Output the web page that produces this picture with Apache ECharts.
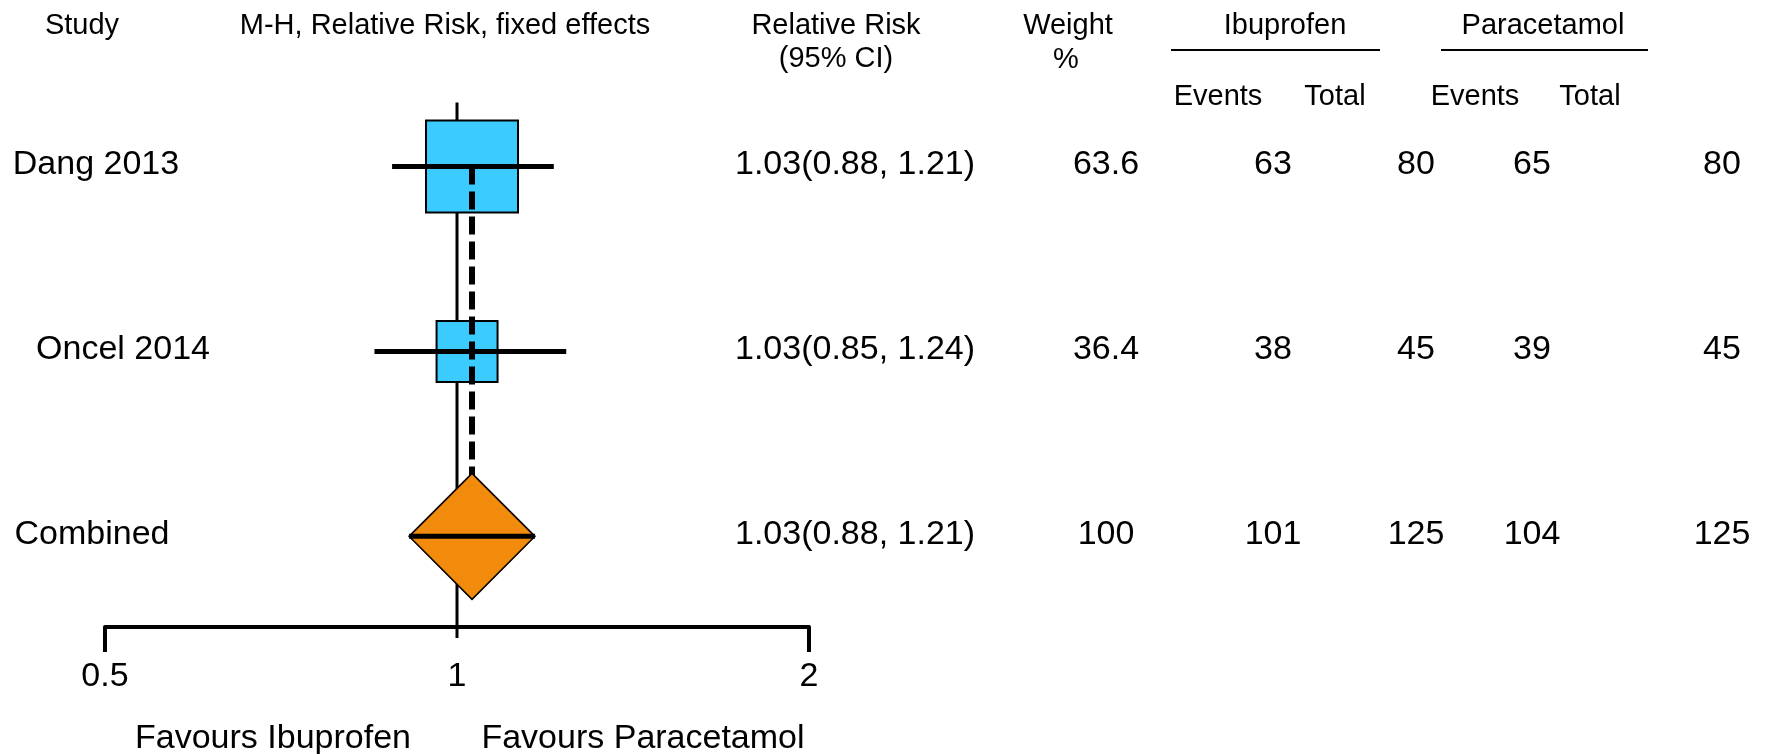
<!DOCTYPE html>
<html>
<head>
<meta charset="utf-8">
<script src="https://cdn.jsdelivr.net/npm/echarts@6/dist/echarts.min.js"></script>
<style>
html,body{margin:0;padding:0;background:#fff;}
#chart{width:1765px;height:754px;}
</style>
</head>
<body>
<div id="chart"></div>
<script>
// ---------- data ----------
const studies = ['Dang 2013', 'Oncel 2014', 'Combined'];
const rr = [1.03, 1.02, 1.03];          // marker positions
const ciLow = [0.88, 0.85, 0.88];
const ciHigh = [1.21, 1.24, 1.21];
const rrText = ['1.03(0.88, 1.21)', '1.03(0.85, 1.24)', '1.03(0.88, 1.21)'];
const weights = [63.6, 36.4, 100];
const ibuEvents = [63, 38, 101];
const ibuTotal = [80, 45, 125];
const paraEvents = [65, 39, 104];
const paraTotal = [80, 45, 125];
const xTicks = [0.5, 1, 2];
const favourLabels = ['Favours Ibuprofen', 'Favours Paracetamol'];

// ---------- layout (pixels) ----------
const FONT = "'Liberation Sans', Arial, sans-serif";
const labelCenterX = [96, 123, 92];
const colX = {rr: 855, w: 1106, ie: 1273, it: 1416, pe: 1532, pt: 1722};
const BOX_BLUE = '#3CCBFF';
const DIAMOND = '#F28A0C';
const BIG = 34, HEAD = 29;

const chart = echarts.init(document.getElementById('chart'), null, {renderer: 'canvas'});

function txt(x, y, text, size) {
  return {type: 'text', x: x, y: y, style: {text: text, x: 0, y: 0, fontSize: size, fontFamily: FONT, fill: '#000', align: 'center', verticalAlign: 'middle'}};
}

const pooledIdx = studies.length - 1;
const studyIdx = studies.map((s, i) => i).filter(i => i !== pooledIdx);

const option = {
  backgroundColor: '#fff',
  animation: false,
  grid: {left: 105, width: 704, top: 74, height: 553},
  xAxis: {
    type: 'log', logBase: 2, min: 0.5, max: 2,
    axisLine: {show: true, onZero: false, lineStyle: {color: '#000', width: 4}},
    axisTick: {show: false},
    splitLine: {show: false},
    axisLabel: {fontSize: BIG, color: '#000', fontFamily: FONT, margin: 33,
      formatter: v => String(v)}
  },
  yAxis: {type: 'value', min: -0.5, max: 2.49, inverse: true, show: false},
  graphic: [
    txt(82, 26, 'Study', HEAD),
    txt(445, 26, 'M-H, Relative Risk, fixed effects', HEAD),
    txt(836, 26, 'Relative Risk', HEAD),
    txt(836, 59, '(95% CI)', HEAD),
    txt(1068, 26, 'Weight', HEAD),
    txt(1066, 60, '%', HEAD),
    txt(1285, 26, 'Ibuprofen', HEAD),
    txt(1543, 26, 'Paracetamol', HEAD),
    txt(1218, 97, 'Events', HEAD),
    txt(1335, 97, 'Total', HEAD),
    txt(1475, 97, 'Events', HEAD),
    txt(1590, 97, 'Total', HEAD),
    {type: 'line', shape: {x1: 1171, y1: 50, x2: 1380, y2: 50}, style: {stroke: '#000', lineWidth: 2}},
    {type: 'line', shape: {x1: 1441, y1: 50, x2: 1648, y2: 50}, style: {stroke: '#000', lineWidth: 2}},
    txt(273, 739, favourLabels[0], BIG),
    txt(643, 739, favourLabels[1], BIG)
  ],
  series: [
    // axis ticks + no-effect line at 1
    {
      type: 'custom', z: 1, silent: true,
      data: xTicks.map(v => [v]),
      renderItem: function (params, api) {
        const v = api.value(0);
        const base = api.coord([v, 2.49]);
        if (v === 1) {
          const top = api.coord([v, 0])[1] - 64;
          return {type: 'line', shape: {x1: base[0], y1: top, x2: base[0], y2: base[1] + 11},
            style: {stroke: '#000', lineWidth: 3}};
        }
        return {type: 'line', shape: {x1: base[0], y1: base[1], x2: base[0], y2: base[1] + 25},
          style: {stroke: '#000', lineWidth: 4}};
      }
    },
    // study boxes
    {
      type: 'custom', z: 2, silent: true,
      data: studyIdx.map(i => [rr[i], i, weights[i]]),
      renderItem: function (params, api) {
        const c = api.coord([api.value(0), api.value(1)]);
        const size = 19.5 + 1.14 * api.value(2);
        return {type: 'rect', shape: {x: c[0] - size / 2, y: c[1] - size / 2, width: size, height: size},
          style: {fill: BOX_BLUE, stroke: '#000', lineWidth: 2}};
      }
    },
    // dashed pooled line
    {
      type: 'custom', z: 3, silent: true,
      data: [[rr[pooledIdx], 0, pooledIdx]],
      renderItem: function (params, api) {
        const a = api.coord([api.value(0), api.value(1)]);
        const b = api.coord([api.value(0), api.value(2)]);
        return {type: 'line', shape: {x1: a[0], y1: a[1], x2: b[0], y2: b[1]},
          style: {stroke: '#000', lineWidth: 6, lineDash: [18, 7]}};
      }
    },
    // CI lines for studies
    {
      type: 'custom', z: 4, silent: true,
      data: studyIdx.map(i => [ciLow[i], ciHigh[i], i]),
      renderItem: function (params, api) {
        const a = api.coord([api.value(0), api.value(2)]);
        const b = api.coord([api.value(1), api.value(2)]);
        return {type: 'line', shape: {x1: a[0], y1: a[1], x2: b[0], y2: b[1]},
          style: {stroke: '#000', lineWidth: 5}};
      }
    },
    // pooled diamond
    {
      type: 'custom', z: 5, silent: true,
      data: [[rr[pooledIdx], pooledIdx]],
      renderItem: function (params, api) {
        const c = api.coord([api.value(0), api.value(1)]);
        const h = 63;
        return {type: 'group', children: [
          {type: 'polygon', shape: {points: [[c[0], c[1] - h], [c[0] + h, c[1]], [c[0], c[1] + h], [c[0] - h, c[1]]]},
            style: {fill: DIAMOND, stroke: '#000', lineWidth: 1.5}},
          {type: 'line', shape: {x1: c[0] - h, y1: c[1], x2: c[0] + h, y2: c[1]},
            style: {stroke: '#000', lineWidth: 5}}
        ]};
      }
    },
    // table text
    {
      type: 'custom', z: 6, silent: true,
      data: studies.map((s, i) => [i]),
      renderItem: function (params, api) {
        const i = api.value(0);
        const y = api.coord([1, i])[1] - 2;
        return {type: 'group', children: [
          txt(labelCenterX[i], y, studies[i], BIG),
          txt(colX.rr, y, rrText[i], BIG),
          txt(colX.w, y, String(weights[i]), BIG),
          txt(colX.ie, y, String(ibuEvents[i]), BIG),
          txt(colX.it, y, String(ibuTotal[i]), BIG),
          txt(colX.pe, y, String(paraEvents[i]), BIG),
          txt(colX.pt, y, String(paraTotal[i]), BIG)
        ]};
      }
    }
  ]
};
chart.setOption(option);
</script>
</body>
</html>
